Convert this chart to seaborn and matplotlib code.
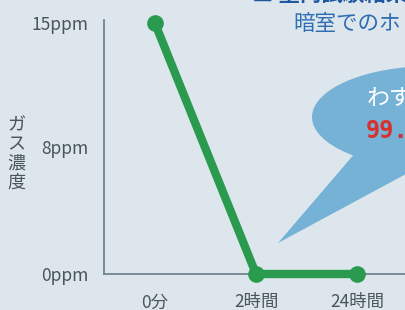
import matplotlib
matplotlib.use("Agg")
import matplotlib.pyplot as plt
import seaborn as sns
import numpy as np
from matplotlib.patches import Ellipse, Polygon

categories = ["0分", "2時間", "24時間"]
gas_ppm = [15, 0, 0]
ytick_values = [0, 7.6, 15]
ytick_labels = ["0ppm", "8ppm", "15ppm"]

sns.set_theme(style="white")
plt.rcParams['font.family'] = ['Noto Sans CJK JP', 'DejaVu Sans']

bg = "#dde6ed"
axis_col = "#6f8591"
text_col = "#4a545b"
green = "#2a9a4e"

fig = plt.figure(figsize=(4.06, 3.10), dpi=100, facecolor=bg)
ax = fig.add_axes([104/406, 1 - 274/310, 1 - 104/406 + 0.01, (274 - 20)/310])
ax.set_facecolor(bg)

x = np.arange(len(categories))
sns.lineplot(x=x, y=gas_ppm, ax=ax, color=green, linewidth=6,
             marker="o", markersize=12, markeredgewidth=0, markerfacecolor=green,
             zorder=3, clip_on=False)

ax.set_xlim(-0.5, 2.52)
ax.set_ylim(0, 15.15)
ax.set_xticks(x)
ax.set_xticklabels(categories, fontsize=12.5, color=text_col)
ax.tick_params(axis="x", length=0, pad=14)
ax.set_xticks([-0.5, 0.5, 1.5, 2.5], minor=True)
ax.tick_params(axis="x", which="minor", length=5, width=1.2, color=axis_col, direction="out")
ax.set_yticks(ytick_values)
ax.set_yticklabels(ytick_labels, fontsize=12.5, color=text_col)
ax.tick_params(axis="y", length=5, width=1.2, color=axis_col, direction="out", pad=6)
ax.set_xlabel("")
ax.set_ylabel("")
for s in ["top", "right"]:
    ax.spines[s].set_visible(False)
for s in ["left", "bottom"]:
    ax.spines[s].set_color(axis_col)
    ax.spines[s].set_linewidth(1.3)

fig.text(16/406, 1 - 154/310, "ガ\nス\n濃\n度", fontsize=13, color=text_col,
         ha="center", va="center", linespacing=1.08)

# overlay for decorations
ov = fig.add_axes([0, 0, 1, 1], zorder=5)
ov.set_xlim(0, 406)
ov.set_ylim(310, 0)
ov.axis("off")
ov.patch.set_visible(False)
bubble = "#76b2d6"
ov.add_patch(Ellipse((432, 117), 240, 102, color=bubble, lw=0))
ov.add_patch(Polygon([(356, 152), (278, 243), (406, 174), (430, 160)], closed=True, color=bubble, lw=0))
ov.text(367, 99, "わすか", fontsize=16.5, color="white", ha="left", va="center", clip_on=True)
ov.text(366, 131, "99.9", fontsize=17, color="#d8302c", fontweight="bold", ha="left", va="center",
        family=["DejaVu Sans Mono"], clip_on=True)
ov.text(293, 24, "暗室でのホ", fontsize=15.5, color="#2f6eb3", ha="left", va="center", clip_on=True)
ov.text(252, -6, "■ 室内試験結果", fontsize=15.5, color="#1f57a0", fontweight="bold",
        ha="left", va="center", clip_on=True)

fig.savefig("out.png", dpi=100, facecolor=bg)
